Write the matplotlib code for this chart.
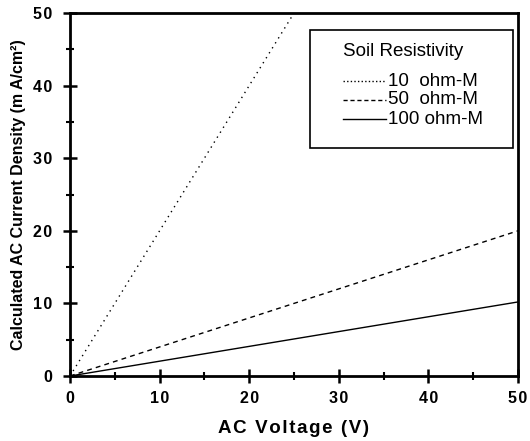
import matplotlib
matplotlib.use("Agg")
import matplotlib.pyplot as plt
from matplotlib.ticker import MultipleLocator, FuncFormatter
from matplotlib.lines import Line2D
from matplotlib.patches import Rectangle

plt.rcParams['font.family'] = ['Liberation Sans', 'DejaVu Sans']

voltage = [0, 50]
ohm10 = [0, 100]
ohm50 = [0, 20]
ohm100 = [0, 10.2]
series_labels = ["10  ohm-M", "50  ohm-M", "100 ohm-M"]
legend_title = "Soil Resistivity"

HS = "\u200a"

def spaced(s, sep=HS):
    return sep.join(list(s))

fig = plt.figure(figsize=(5.3, 4.41), dpi=100)
L, R, T, B = 70, 518, 13, 376
ax = fig.add_axes([L/530, 1-B/441, (R-L)/530, (B-T)/441])

styles = [(0, (1, 3.2)), (0, (3.5, 3)), '-']
for ys, ls in zip([ohm10, ohm50, ohm100], styles):
    ax.plot(voltage, ys, color='black', lw=1.0, linestyle=ls)

ax.set_xlim(0, 50)
ax.set_ylim(0, 50)
ax.xaxis.set_major_locator(MultipleLocator(10))
ax.xaxis.set_minor_locator(MultipleLocator(5))
ax.yaxis.set_major_locator(MultipleLocator(10))
ax.yaxis.set_minor_locator(MultipleLocator(5))
fmt = FuncFormatter(lambda v, p: spaced("%d" % v))
ax.xaxis.set_major_formatter(fmt)
ax.yaxis.set_major_formatter(fmt)
ax.tick_params(which='major', direction='inout', length=10, width=1.8, labelsize=11.5)
ax.tick_params(axis='x', which='major', pad=6)
ax.tick_params(axis='y', which='major', pad=8)
ax.tick_params(which='minor', direction='inout', length=6, width=1.5)
for lab in ax.get_xticklabels() + ax.get_yticklabels():
    lab.set_fontweight('bold')
for s in ax.spines.values():
    s.set_linewidth(2.0)

ax.set_xlabel(spaced("AC Voltage (V)"), fontsize=13.5, fontweight='bold', labelpad=10)
ax.set_ylabel("Calculated AC Current Density (m A/cm\u00b2)", fontsize=11.5, fontweight='bold', labelpad=5)

def axp(px, py):
    return (px - L) / (R - L), (B - py) / (B - T)

x0, y0 = axp(310, 148)
x1, y1 = axp(513, 30)
ax.add_patch(Rectangle((x0, y0), x1 - x0, y1 - y0, transform=ax.transAxes,
                       fill=True, facecolor='white', edgecolor='black', lw=1.2, zorder=5))
tx, ty = axp(343, 52)
ax.text(tx, ty, legend_title, transform=ax.transAxes, fontsize=13.5, va='center', ha='left', zorder=6)
handle_styles = [(0, (1, 1.6)), (0, (3, 2)), '-']
for lab, ls, py in zip(series_labels, handle_styles, [81, 100, 119]):
    hx0, hy = axp(343, py)
    hx1, _ = axp(386, py)
    ax.add_line(Line2D([hx0, hx1], [hy, hy], transform=ax.transAxes, color='black',
                       lw=1.0, linestyle=ls, zorder=6))
    lx, _ = axp(388, py)
    ax.text(lx, hy, lab, transform=ax.transAxes, fontsize=13.5, va='center', ha='left', zorder=6)

fig.savefig("out.png", dpi=100)
